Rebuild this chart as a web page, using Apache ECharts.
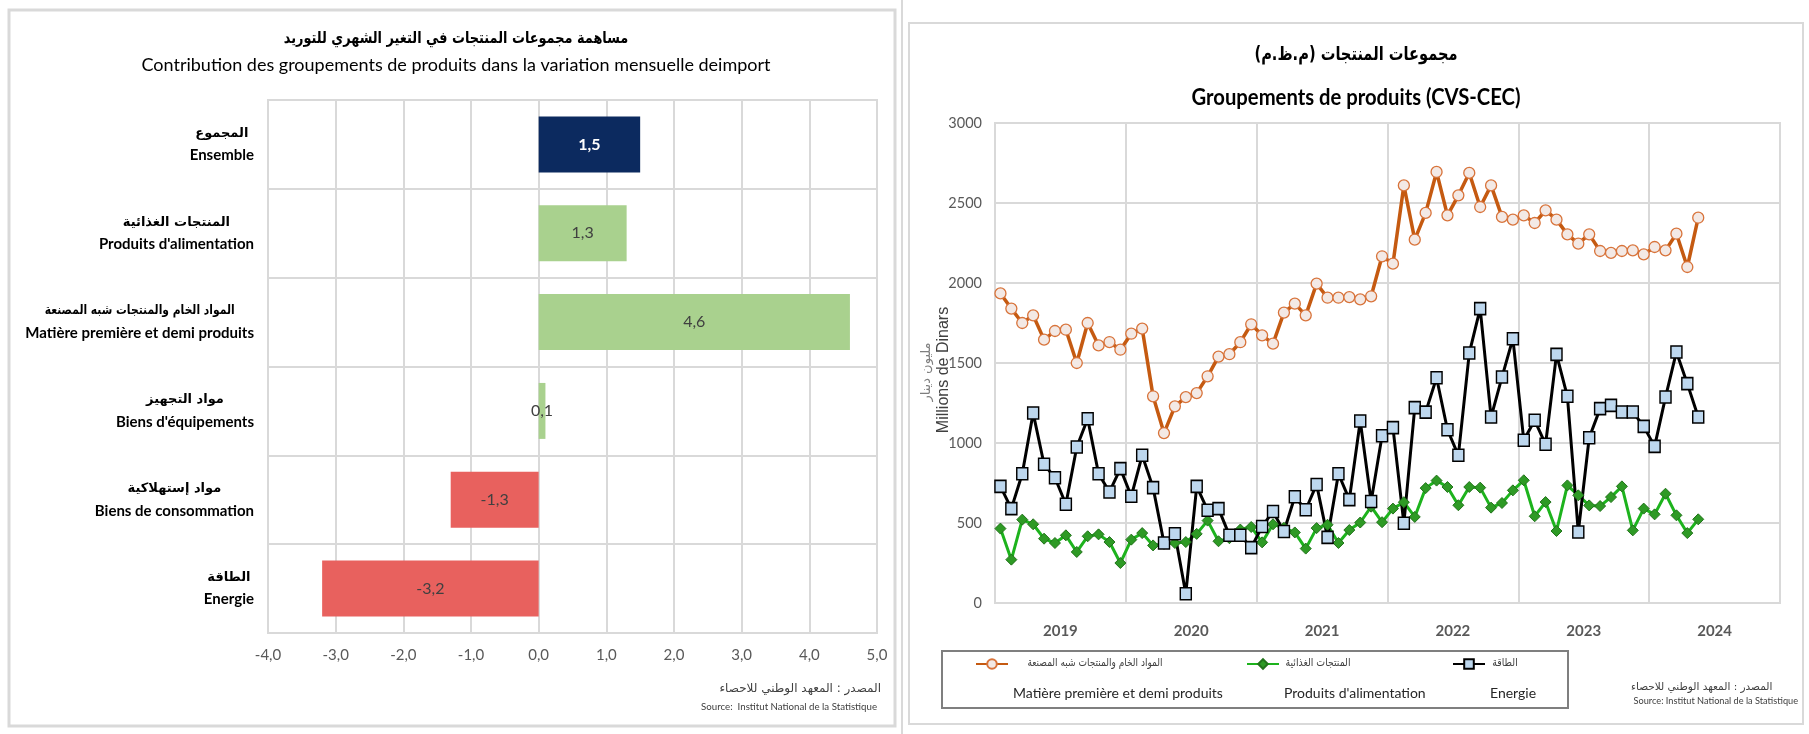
<!DOCTYPE html>
<html><head><meta charset="utf-8">
<script src="https://cdn.jsdelivr.net/npm/echarts@6/dist/echarts.min.js"></script>
<style>html,body{margin:0;padding:0;background:#fff;}#c{width:1809px;height:734px;}</style>
</head><body><div id="c"></div>
<script>
// ---------- Left chart data ----------
const barCatsFr = ['Ensemble', "Produits d'alimentation", 'Matière première et demi produits', "Biens d'équipements", 'Biens de consommation', 'Energie'];
const barCatsAr = ['المجموع', 'المنتجات الغذائية', 'المواد الخام والمنتجات شبه المصنعة', 'مواد التجهيز', 'مواد إستهلاكية', 'الطاقة'];
const barValues = [1.5, 1.3, 4.6, 0.1, -1.3, -3.2];
const barColors = ['#0c2a5f', '#a9d18e', '#a9d18e', '#a9d18e', '#e8615e', '#e8615e'];
const barLabelColors = ['#ffffff', '#404040', '#404040', '#404040', '#404040', '#404040'];

// ---------- Right chart data ----------
const years = ['2019', '2020', '2021', '2022', '2023', '2024'];
const monthNames = ['01','02','03','04','05','06','07','08','09','10','11','12'];
const seriesNamesFr = ['Matière première et demi produits', "Produits d'alimentation", 'Energie'];
const seriesNamesAr = ['المواد الخام والمنتجات شبه المصنعة', 'المنتجات الغذائية', 'الطاقة'];
const matieres = [
  1935,1840,1750,1798,1646,1700,1708,1500,1750,1610,1631,1583,
  1683,1715,1292,1062,1229,1287,1312,1417,1540,1555,1630,1742,
  1673,1621,1815,1871,1798,1996,1908,1908,1912,1898,1917,2167,
  2121,2610,2271,2438,2694,2423,2548,2688,2475,2610,2413,2396,
  2423,2375,2454,2396,2304,2246,2304,2200,2188,2200,2204,2179,
  2225,2204,2308,2100,2408];
const alimentation = [
  465,271,521,492,402,375,423,319,417,429,381,250,
  396,437,360,370,375,381,432,515,386,405,459,475,
  379,492,470,441,340,468,489,375,456,503,602,505,
  590,630,538,718,765,725,611,725,721,596,625,704,
  767,542,631,450,735,673,610,606,662,729,454,590,
  554,683,548,437,523];
const energie = [
  729,590,808,1187,867,783,617,975,1152,808,694,840,
  667,923,721,375,433,58,729,580,590,423,423,346,
  478,572,447,664,583,741,410,808,646,1138,634,1045,
  1096,498,1221,1193,1408,1083,923,1562,1840,1162,1412,1652,
  1017,1142,992,1554,1292,444,1033,1215,1235,1194,1194,1104,
  979,1287,1569,1371,1162];

const monthCats = [];
years.forEach(y => monthNames.forEach(m => monthCats.push(y + '-' + m)));

const LATO = "Lato,'DejaVu Sans',sans-serif";
const ARAB = "'DejaVu Sans',sans-serif";
const fmtComma = v => (Math.round(v * 10) / 10).toFixed(1).replace('.', ',');
const GRID_C = '#d9d9d9';

const mctx = document.createElement('canvas').getContext('2d');
function textW(font, s) { mctx.font = font; return mctx.measureText(s).width; }

// Arabic text placed by its left edge from its own measured width (anchor: 'c' centre, 'r' right, 'l' left)
function arText(text, font, x, y, anchor, scaleX, fill, extra) {
  const sx = scaleX || 1;
  const w = textW(font, text) * sx;
  const left = anchor === 'c' ? x - w / 2 : anchor === 'r' ? x - w : x;
  return Object.assign({type: 'text', x: left, y: y, scaleX: sx,
    style: {text: text, font: font, fill: fill || '#000', align: 'left', verticalAlign: 'middle'}}, extra || {});
}

const chart = echarts.init(document.getElementById('c'), null, {renderer: 'canvas'});

function legendFor(idx, left) {
  return {
    data: [seriesNamesFr[idx]],
    left: left, top: 630, padding: 0,
    itemWidth: 32, itemHeight: 12,
    formatter: name => '{e| }\n{e| }\n{f|' + name + '}',
    textStyle: {
      rich: {
        e: {fontSize: 10, lineHeight: 29},
        f: {fontFamily: LATO, fontSize: 14, lineHeight: 29, color: '#262626'}
      }
    }
  };
}

const LABEL_RIGHT = 268 - 14;
const FR_LABEL_FONT = 'bold 15px Lato';

const baseGraphics = [
  {type: 'rect', shape: {x: 9, y: 10, width: 886, height: 716}, style: {fill: 'none', stroke: GRID_C, lineWidth: 3}, silent: true},
  {type: 'line', shape: {x1: 902, y1: 0, x2: 902, y2: 734}, style: {stroke: GRID_C, lineWidth: 2}, silent: true},
  {type: 'rect', shape: {x: 909, y: 23, width: 894, height: 701}, style: {fill: 'none', stroke: GRID_C, lineWidth: 2}, silent: true},
  {type: 'rect', shape: {x: 942, y: 651, width: 626, height: 57}, style: {fill: 'none', stroke: '#7f7f7f', lineWidth: 2}, silent: true},
  // left titles
  arText('مساهمة مجموعات المنتجات في التغير الشهري للتوريد', 'bold 16px ' + ARAB, 456, 39, 'c', 0.805),
  {type: 'text', x: 456, y: 65, style: {text: 'Contribution des groupements de produits dans la variation mensuelle deimport', font: '18px ' + LATO, fill: '#000', align: 'center', verticalAlign: 'middle'}},
  // left source
  arText('المصدر : المعهد الوطني للاحصاء', '12px ' + ARAB, 881, 689, 'r', 1, '#404040'),
  {type: 'text', x: 877, y: 707, style: {text: 'Source:  Institut National de la Statistique', font: '9.7px ' + LATO, fill: '#404040', align: 'right', verticalAlign: 'middle'}},
  // right titles
  arText('مجموعات المنتجات (م.ظ.م)', 'bold 19px ' + ARAB, 1356, 55, 'c', 0.77),
  {type: 'text', x: 1356, y: 98, scaleX: 0.92, style: {text: 'Groupements de produits (CVS-CEC)', font: 'bold 22px ' + LATO, fill: '#000', align: 'center', verticalAlign: 'middle'}},
  // right y-axis name
  {type: 'text', x: 927, y: 372, rotation: Math.PI / 2, style: {text: 'مليون دينار', font: '13px ' + ARAB, fill: '#7f7f7f', align: 'center', verticalAlign: 'middle'}},
  {type: 'text', x: 944, y: 370, rotation: Math.PI / 2, style: {text: 'Millions de Dinars', font: '16px ' + "'Liberation Sans',sans-serif", fill: '#404040', align: 'center', verticalAlign: 'middle'}},
  // right source
  arText('المصدر : المعهد الوطني للاحصاء', '10.5px ' + ARAB, 1631, 687, 'l', 1, '#404040'),
  {type: 'text', x: 1798, y: 701, style: {text: 'Source: Institut National de la Statistique', font: '9.2px ' + LATO, fill: '#404040', align: 'right', verticalAlign: 'middle'}},
  // legend Arabic lines
  arText(seriesNamesAr[0], '11px ' + ARAB, 1095, 663, 'c', 0.82, '#404040'),
  arText(seriesNamesAr[1], '11px ' + ARAB, 1318, 663, 'c', 0.85, '#404040'),
  arText(seriesNamesAr[2], '11px ' + ARAB, 1505, 663, 'c', 0.85, '#404040')
];

const option = {
  animation: false,
  backgroundColor: '#ffffff',
  grid: [
    {left: 268, top: 100, width: 609, height: 533, show: true, borderColor: GRID_C, borderWidth: 2, outerBoundsMode: 'none', containLabel: false},
    {left: 995, top: 123, width: 785, height: 480, show: true, borderColor: GRID_C, borderWidth: 2, outerBoundsMode: 'none', containLabel: false}
  ],
  xAxis: [
    {
      gridIndex: 0, type: 'value', min: -4, max: 5, interval: 1,
      axisLine: {show: false}, axisTick: {show: false},
      splitLine: {show: true, lineStyle: {color: GRID_C, width: 2}},
      axisLabel: {formatter: v => fmtComma(v), color: '#595959', fontFamily: LATO, fontSize: 15, margin: 15}
    },
    {
      gridIndex: 1, type: 'category', data: years, boundaryGap: true, position: 'bottom',
      axisLine: {show: true, lineStyle: {color: GRID_C, width: 2}}, axisTick: {show: false},
      splitLine: {show: true, interval: 0, lineStyle: {color: GRID_C, width: 2}},
      axisLabel: {interval: 0, color: '#595959', fontFamily: LATO, fontWeight: 'bold', fontSize: 15, margin: 21}
    },
    {
      gridIndex: 1, type: 'category', data: monthCats, boundaryGap: true, show: false, position: 'bottom'
    }
  ],
  yAxis: [
    {
      gridIndex: 0, type: 'category', data: barCatsFr, inverse: true,
      axisLine: {show: false, onZero: false}, axisTick: {show: false},
      splitLine: {show: true, interval: 0, lineStyle: {color: GRID_C, width: 2}},
      axisLabel: {
        interval: 0, margin: 14,
        formatter: v => '{e| }\n{f|' + v + '}',
        rich: {
          e: {fontSize: 10, lineHeight: 22},
          f: {fontFamily: LATO, fontWeight: 'bold', fontSize: 15, lineHeight: 22, color: '#000'}
        }
      }
    },
    {
      gridIndex: 1, type: 'value', min: 0, max: 3000, interval: 500,
      axisLine: {show: false}, axisTick: {show: false},
      splitLine: {show: true, lineStyle: {color: GRID_C, width: 2}},
      axisLabel: {formatter: v => String(v), color: '#595959', fontFamily: LATO, fontSize: 14.5, margin: 13}
    }
  ],
  legend: [legendFor(0, 975), legendFor(1, 1246), legendFor(2, 1452)],
  series: [
    {
      type: 'bar', xAxisIndex: 0, yAxisIndex: 0, barCategoryGap: '37%',
      data: barValues.map((v, i) => ({
        value: v,
        itemStyle: {color: barColors[i]},
        label: {color: barLabelColors[i], fontWeight: i === 0 ? 'bold' : 'normal'}
      })),
      label: {show: true, position: 'inside', formatter: p => fmtComma(p.value), fontFamily: LATO, fontSize: 16}
    },
    {
      name: seriesNamesFr[0], type: 'line', xAxisIndex: 2, yAxisIndex: 1, data: matieres,
      symbol: 'circle', symbolSize: 11, showAllSymbol: true,
      lineStyle: {color: '#c55a11', width: 3.5},
      itemStyle: {color: '#f3e9e5', borderColor: '#d8733a', borderWidth: 1.3}
    },
    {
      name: seriesNamesFr[1], type: 'line', xAxisIndex: 2, yAxisIndex: 1, data: alimentation,
      symbol: 'diamond', symbolSize: 11, showAllSymbol: true,
      lineStyle: {color: '#1db31d', width: 3},
      itemStyle: {color: '#2e9a25', borderColor: '#22731b', borderWidth: 1}
    },
    {
      name: seriesNamesFr[2], type: 'line', xAxisIndex: 2, yAxisIndex: 1, data: energie,
      symbol: 'rect', symbolSize: [11, 12], showAllSymbol: true,
      lineStyle: {color: '#000000', width: 3},
      itemStyle: {color: '#bdd7ee', borderColor: '#000000', borderWidth: 1.5}
    }
  ],
  graphic: baseGraphics
};
chart.setOption(option);

// Arabic line of each category label, centred over the French line (y from the axis scale)
const AR_FONT = 'bold 13px ' + ARAB;
const catGraphics = barCatsFr.map((fr, i) => {
  const yc = chart.convertToPixel({yAxisIndex: 0}, fr);
  const frW = textW(FR_LABEL_FONT, fr);
  const arW = textW(AR_FONT, barCatsAr[i]);
  const sx = Math.min(1, 190 / arW);
  return arText(barCatsAr[i], AR_FONT, LABEL_RIGHT - frW / 2, yc - 11, 'c', sx);
});
chart.setOption({graphic: baseGraphics.concat(catGraphics)});
</script>
</body></html>
